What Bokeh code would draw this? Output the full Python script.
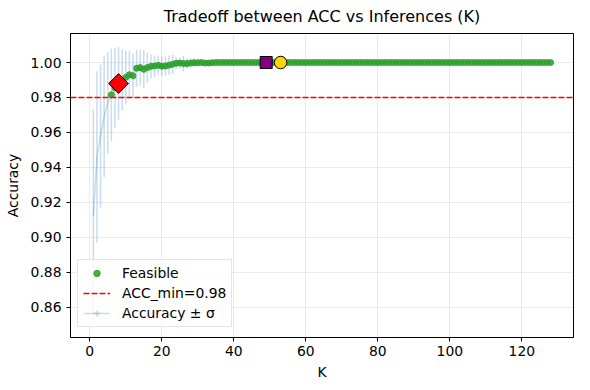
import numpy as np
from bokeh.plotting import figure
from bokeh.models import Range1d, FixedTicker, PrintfTickFormatter, Legend, LegendItem
from bokeh.embed import file_html
from bokeh.resources import INLINE

# ---------------- data ----------------
K = list(range(1, 129))
ACC_HEAD = [0.912, 0.946, 0.958, 0.969, 0.977, 0.9815, 0.9855, 0.988, 0.990, 0.9915,
            0.993, 0.9924, 0.9967, 0.9971, 0.9961, 0.9971, 0.9978, 0.998, 0.9984, 0.9979,
            0.998, 0.9985, 0.999, 0.9996, 0.9997, 0.9994, 0.9994, 0.9997, 0.9999, 0.9999,
            1.0, 0.9997, 0.9997, 0.9999]
ACC = ACC_HEAD + [1.0] * (len(K) - len(ACC_HEAD))
SIGMA_HEAD = [0.0614, 0.0490, 0.0410, 0.0345, 0.0290, 0.0265, 0.0228, 0.0207, 0.0175, 0.0153,
              0.0137, 0.0128, 0.0107, 0.0104, 0.0110, 0.0085, 0.0068, 0.0062, 0.0053, 0.0057,
              0.0056, 0.0057, 0.0055, 0.0034, 0.0033, 0.0044, 0.0029, 0.0027, 0.0025, 0.0020,
              0.0010, 0.0015, 0.0017, 0.0012]
SIGMA = SIGMA_HEAD + [0.0] * (len(K) - len(SIGMA_HEAD))
ACC_MIN = 0.98
DIAMOND_K = 8
SQUARE_K = 49
CIRCLE_K = 53
X_TICKS = [0, 20, 40, 60, 80, 100, 120]
Y_TICKS = [0.86, 0.88, 0.90, 0.92, 0.94, 0.96, 0.98, 1.00]
TITLE = "Tradeoff between ACC vs Inferences (K)"
FONT = "DejaVu Sans"

k = np.array(K, dtype=float)
acc = np.array(ACC)
sig = np.array(SIGMA)
lo = acc - sig
hi = acc + sig

# matplotlib-like 5% margins
xpad = 0.05 * (k.max() - k.min())
xlo, xhi = k.min() - xpad, k.max() + xpad
ypad = 0.05 * (hi.max() - lo.min())
ylo, yhi = lo.min() - ypad, hi.max() + ypad

p = figure(width=588, height=388, output_backend="svg", toolbar_location=None,
           x_range=Range1d(xlo, xhi), y_range=Range1d(ylo, yhi),
           min_border_left=70, min_border_right=15, min_border_top=33, min_border_bottom=51,
           title=TITLE)

p.title.align = "center"
p.title.vertical_align = "top"
p.title.text_font = FONT
p.title.text_font_size = "16px"
p.title.text_font_style = "normal"
p.title.text_color = "black"
p.title.standoff = 12

p.outline_line_color = "black"
p.outline_line_width = 1
p.background_fill_color = "white"
p.border_fill_color = "white"

for ax in (p.xaxis[0], p.yaxis[0]):
    ax.axis_line_color = "black"
    ax.major_tick_line_color = "black"
    ax.major_tick_out = 4
    ax.major_tick_in = 0
    ax.minor_tick_line_color = None
    ax.major_label_text_font = FONT
    ax.major_label_text_font_size = "13.9px"
    ax.major_label_text_color = "black"
    ax.axis_label_text_font = FONT
    ax.axis_label_text_font_size = "13.9px"
    ax.axis_label_text_font_style = "normal"
    ax.axis_label_text_color = "black"

p.xaxis.ticker = FixedTicker(ticks=X_TICKS)
p.yaxis.ticker = FixedTicker(ticks=Y_TICKS)
p.yaxis.formatter = PrintfTickFormatter(format="%.2f")
p.xaxis.axis_label = "K"
p.yaxis.axis_label = "Accuracy"
p.xaxis.major_label_standoff = 4
p.yaxis.major_label_standoff = 5
p.xaxis.axis_label_standoff = 5
p.yaxis.axis_label_standoff = 7

p.xgrid.ticker = FixedTicker(ticks=X_TICKS)
p.ygrid.ticker = FixedTicker(ticks=Y_TICKS)
p.grid.grid_line_color = "#b0b0b0"
p.grid.grid_line_alpha = 0.3
p.grid.grid_line_width = 0.8

BLUE = "#1f77b4"
GREEN = "#2ca02c"
# error bars + mean line
p.segment(x0=k, y0=lo, x1=k, y1=hi, line_color=BLUE, line_alpha=0.25, line_width=1.5)
mean_r = p.line(k, acc, line_color=BLUE, line_alpha=0.25, line_width=1.5)
cross_r = p.scatter(k, acc, marker="cross", size=0, line_color=BLUE, line_alpha=0.25, line_width=1.5)

# feasible points
feas = acc >= ACC_MIN
feas_r = p.scatter(k[feas], acc[feas], size=6, fill_color=GREEN, line_color=GREEN,
                   fill_alpha=0.85, line_alpha=0.9)

# threshold line
thr_r = p.line([xlo, xhi], [ACC_MIN, ACC_MIN], line_color="red", line_dash="6 2", line_width=1.6)

# special markers
p.scatter([DIAMOND_K], [ACC[DIAMOND_K - 1]], marker="square", angle=np.pi / 4, size=14,
          fill_color="red", line_color="black", line_width=1)
p.scatter([SQUARE_K], [ACC[SQUARE_K - 1]], marker="square", size=12,
          fill_color="purple", line_color="black", line_width=1)
p.scatter([CIRCLE_K], [ACC[CIRCLE_K - 1]], marker="circle", size=12.5,
          fill_color="gold", line_color="black", line_width=1)

legend = Legend(items=[
    LegendItem(label="Feasible", renderers=[feas_r]),
    LegendItem(label=f"ACC_min={ACC_MIN}", renderers=[thr_r]),
    LegendItem(label="Accuracy \u00b1 \u03c3", renderers=[mean_r, cross_r]),
], location=(7, 10))
legend.label_text_font = FONT
legend.label_text_font_size = "13.9px"
legend.label_text_color = "black"
legend.glyph_width = 27
legend.glyph_height = 16
legend.label_height = 16
legend.label_standoff = 12
legend.spacing = 4
legend.padding = 5
legend.margin = 0
legend.border_line_color = "#cccccc"
legend.border_line_width = 1
legend.background_fill_alpha = 0.8
p.add_layout(legend)

open("out.html", "w").write(file_html(p, INLINE))
